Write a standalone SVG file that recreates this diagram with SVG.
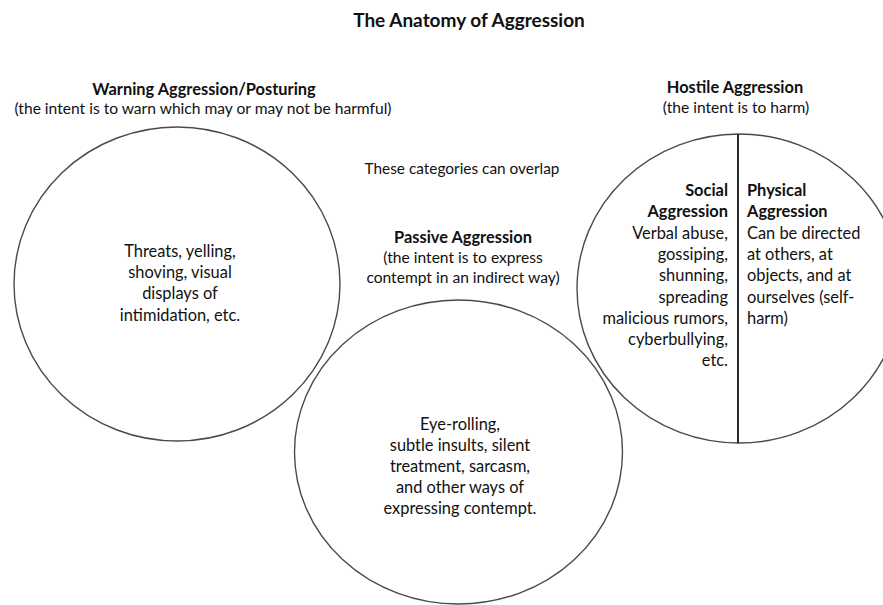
<svg xmlns="http://www.w3.org/2000/svg" width="883" height="605" viewBox="0 0 883 605">
  <style>
    text { font-family: Lato, "Open Sans", sans-serif; fill: #111111; font-size: 16.4px; }
    .c { text-anchor: middle; }
    .r { text-anchor: end; }
    .b { font-weight: bold; font-size: 16.4px; }
    .sub { font-size: 15.6px; }
    .note { font-size: 15.4px; }
    .title { font-size: 19px; font-weight: bold; }
    .ring { fill: none; stroke: #4a4a4a; stroke-width: 1.4; }
    .divider { stroke: #2a2a2a; stroke-width: 2; }
  </style>
  <rect width="883" height="605" fill="#ffffff"/>

  <text class="title c" x="469" y="27">The Anatomy of Aggression</text>
  <text class="c note" x="462" y="174">These categories can overlap</text>

  <!-- Warning aggression -->
  <g id="warning">
    <text class="c b" x="204" y="95">Warning Aggression/Posturing</text>
    <text class="c sub" x="203" y="114">(the intent is to warn which may or may not be harmful)</text>
    <ellipse class="ring" cx="177" cy="284" rx="163" ry="157"/>
    <text class="c" x="180" y="257">Threats, yelling,</text>
    <text class="c" x="180" y="278">shoving, visual</text>
    <text class="c" x="180" y="299">displays of</text>
    <text class="c" x="180" y="321">intimidation, etc.</text>
  </g>

  <!-- Passive aggression -->
  <g id="passive">
    <text class="c b" x="463" y="243">Passive Aggression</text>
    <text class="c sub" x="463" y="263">(the intent is to express</text>
    <text class="c sub" x="463" y="283">contempt in an indirect way)</text>
    <ellipse class="ring" cx="458.5" cy="452" rx="164" ry="152"/>
    <text class="c" x="460" y="430">Eye-rolling,</text>
    <text class="c" x="460" y="451">subtle insults, silent</text>
    <text class="c" x="460" y="472">treatment, sarcasm,</text>
    <text class="c" x="460" y="493">and other ways of</text>
    <text class="c" x="460" y="514">expressing contempt.</text>
  </g>

  <!-- Hostile aggression, split into social and physical -->
  <g id="hostile">
    <text class="c b" x="735" y="93">Hostile Aggression</text>
    <text class="c sub" x="736" y="113">(the intent is to harm)</text>
    <ellipse class="ring" cx="739" cy="288.5" rx="162" ry="154.5"/>
    <line class="divider" x1="738" y1="134" x2="738" y2="443"/>
  </g>

  <g id="social">
    <text class="r b" x="728" y="196">Social</text>
    <text class="r b" x="728" y="217.3">Aggression</text>
    <text class="r" x="728" y="238.6">Verbal abuse,</text>
    <text class="r" x="728" y="259.9">gossiping,</text>
    <text class="r" x="728" y="281.2">shunning,</text>
    <text class="r" x="728" y="302.5">spreading</text>
    <text class="r" x="728" y="323.8">malicious rumors,</text>
    <text class="r" x="728" y="345.1">cyberbullying,</text>
    <text class="r" x="728" y="366.4">etc.</text>
  </g>

  <g id="physical">
    <text class="b" x="747" y="196">Physical</text>
    <text class="b" x="747" y="217.3">Aggression</text>
    <text x="747" y="238.6">Can be directed</text>
    <text x="747" y="259.9">at others, at</text>
    <text x="747" y="281.2">objects, and at</text>
    <text x="747" y="302.5">ourselves (self-</text>
    <text x="747" y="323.8">harm)</text>
  </g>
</svg>
